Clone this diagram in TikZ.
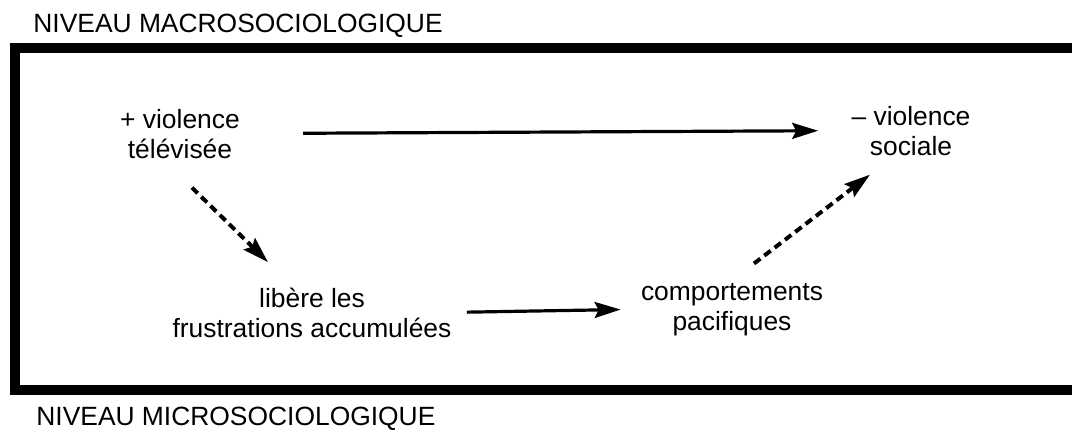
\documentclass[tikz,border=0pt]{standalone}
\usepackage{fontspec}
\setmainfont{Liberation Sans}
\usetikzlibrary{arrows.meta}

\begin{document}
\begin{tikzpicture}[x=0.5pt, y=-0.5pt,
    every node/.style={font=\fontsize{13.2}{15}\selectfont, inner sep=0pt, align=center, anchor=base},
    flow/.style={-{Stealth[length=13pt, width=8pt, inset=2pt]}, line width=1.6pt},
    hint/.style={flow, line width=2pt, dash pattern=on 4pt off 2.5pt}]
  \clip (0,0) rectangle (1072,435);
  \draw[line width=5pt] (15,48) rectangle (1077,390);
  \node[anchor=base west] (macro) at (33,32) {NIVEAU MACROSOCIOLOGIQUE};
  \node[anchor=base west] (micro) at (36,425) {NIVEAU MICROSOCIOLOGIQUE};
  % base is the last line
  \node (tv) at (180,158) {+ violence\\télévisée};
  \node (soc) at (911,155) {– violence\\sociale};
  \node (frus) at (312,337) {libère les\\frustrations accumulées};
  \node (paci) at (732,330) {comportements\\pacifiques};
  % macro level
  \draw[flow, shorten <=31.5pt, shorten >=16.5pt] (tv.east) -- (soc.west);
  % micro level
  \draw[flow, shorten <=7.5pt, shorten >=10pt] (frus.east) -- (paci.west);
  \draw[hint] ([shift={(12,29)}]tv.south) -- ([shift={(-44,-25)}]frus.north);
  \draw[hint] ([shift={(22,-19)}]paci.north) -- ([shift={(-41,19)}]soc.south);
\end{tikzpicture}
\end{document}
